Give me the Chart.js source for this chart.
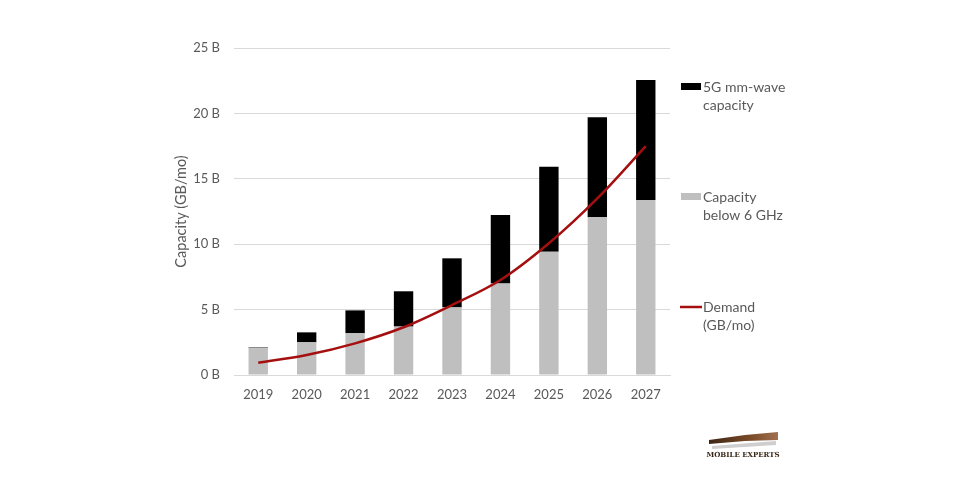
<!DOCTYPE html>
<html>
<head>
<meta charset="utf-8">
<script src="https://cdn.jsdelivr.net/npm/chart.js@4/dist/chart.umd.min.js"></script>
<style>
  html, body { margin: 0; padding: 0; background: #ffffff; }
  #wrap { position: relative; width: 960px; height: 503px; }
</style>
</head>
<body>
<div id="wrap"><canvas id="c" width="960" height="503"></canvas></div>
<script>
const categories = ['2019', '2020', '2021', '2022', '2023', '2024', '2025', '2026', '2027'];
const below6GHz = [2.05, 2.5, 3.19, 3.7, 5.17, 7.0, 9.43, 12.06, 13.38];
const mmWave = [0.05, 0.76, 1.75, 2.7, 3.75, 5.23, 6.5, 7.64, 9.17];
const demand = [0.94, 1.53, 2.42, 3.65, 5.35, 7.26, 10.07, 13.5, 17.5];
const yTicks = [0, 5, 10, 15, 20, 25];
const legendLabels = [['5G mm-wave', 'capacity'], ['Capacity', 'below 6 GHz'], ['Demand', '(GB/mo)']];

const FONT = 'Lato, "Open Sans", sans-serif';
const TXT = '#595959';

const legendPlugin = {
  id: 'customLegend',
  afterDraw(chart) {
    const ctx = chart.ctx;
    ctx.save();
    ctx.font = '14px ' + FONT;
    ctx.fillStyle = TXT;
    ctx.textBaseline = 'middle';
    ctx.textAlign = 'left';
    const items = [
      { type: 'box', color: '#000000', y: 87 },
      { type: 'box', color: '#bfbfbf', y: 197 },
      { type: 'line', color: '#a50f0f', y: 307 }
    ];
    items.forEach((it, i) => {
      if (it.type === 'box') {
        ctx.fillStyle = it.color;
        ctx.fillRect(681, it.y - 4, 20, 7);
      } else {
        ctx.strokeStyle = it.color;
        ctx.lineWidth = 2.5;
        ctx.beginPath();
        ctx.moveTo(680, it.y);
        ctx.lineTo(702, it.y);
        ctx.stroke();
      }
      ctx.fillStyle = TXT;
      legendLabels[i].forEach((t, j) => ctx.fillText(t, 703, it.y + j * 18));
    });

    // logo
    const g = ctx.createLinearGradient(708, 0, 778, 0);
    g.addColorStop(0, '#3b2414');
    g.addColorStop(0.6, '#7a4a28');
    g.addColorStop(1, '#a07050');
    ctx.fillStyle = 'rgba(160,160,160,0.5)';
    ctx.beginPath();
    ctx.moveTo(712, 446); ctx.lineTo(776, 441); ctx.lineTo(776, 445); ctx.lineTo(712, 449);
    ctx.closePath(); ctx.fill();
    ctx.fillStyle = g;
    ctx.beginPath();
    ctx.moveTo(709, 440); ctx.lineTo(745, 435); ctx.lineTo(778, 432); ctx.lineTo(778, 440);
    ctx.lineTo(745, 441); ctx.lineTo(709, 444);
    ctx.closePath(); ctx.fill();
    ctx.fillStyle = '#3a2616';
    ctx.font = 'bold 7px "DejaVu Serif", serif';
    ctx.textAlign = 'center';
    ctx.fillText('MOBILE EXPERTS', 743, 455);
    ctx.restore();
  }
};

new Chart(document.getElementById('c'), {
  type: 'bar',
  data: {
    labels: categories,
    datasets: [
      {
        type: 'line',
        label: 'Demand (GB/mo)',
        data: demand,
        borderColor: '#a50f0f',
        borderWidth: 2.5,
        pointRadius: 0,
        tension: 0.4,
        cubicInterpolationMode: 'monotone',
        fill: false,
        stack: 'demand',
        order: 0
      },
      {
        label: 'Capacity below 6 GHz',
        data: below6GHz,
        backgroundColor: '#bfbfbf',
        stack: 'cap',
        order: 1
      },
      {
        label: '5G mm-wave capacity',
        data: mmWave,
        backgroundColor: '#000000',
        stack: 'cap',
        order: 1
      }
    ]
  },
  options: {
    responsive: false,
    animation: false,
    devicePixelRatio: 1,
    datasets: { bar: { barPercentage: 0.4, categoryPercentage: 1.0 } },
    layout: { padding: { left: 171, right: 290, top: 48, bottom: 88 } },
    plugins: { legend: { display: false }, tooltip: { enabled: false } },
    scales: {
      x: {
        stacked: true,
        grid: { display: false, drawTicks: false },
        border: { display: true, color: '#d9d9d9' },
        ticks: { color: TXT, font: { family: FONT, size: 13 }, padding: 12 },
        afterFit(scale) { scale.height = 40; }
      },
      y: {
        stacked: true,
        min: 0,
        max: 25,
        afterBuildTicks(scale) { scale.ticks = yTicks.map(v => ({ value: v })); },
        grid: { color: '#d9d9d9', lineWidth: 1, drawTicks: false },
        border: { display: false },
        ticks: {
          color: TXT,
          font: { family: FONT, size: 13 },
          padding: 14,
          callback: v => v + ' B'
        },
        title: {
          display: true,
          text: 'Capacity (GB/mo)',
          color: TXT,
          font: { family: FONT, size: 14.5 },
          padding: { top: 2, bottom: 4 }
        },
        afterFit(scale) { scale.width = 63; }
      }
    }
  },
  plugins: [legendPlugin]
});
</script>
</body>
</html>
